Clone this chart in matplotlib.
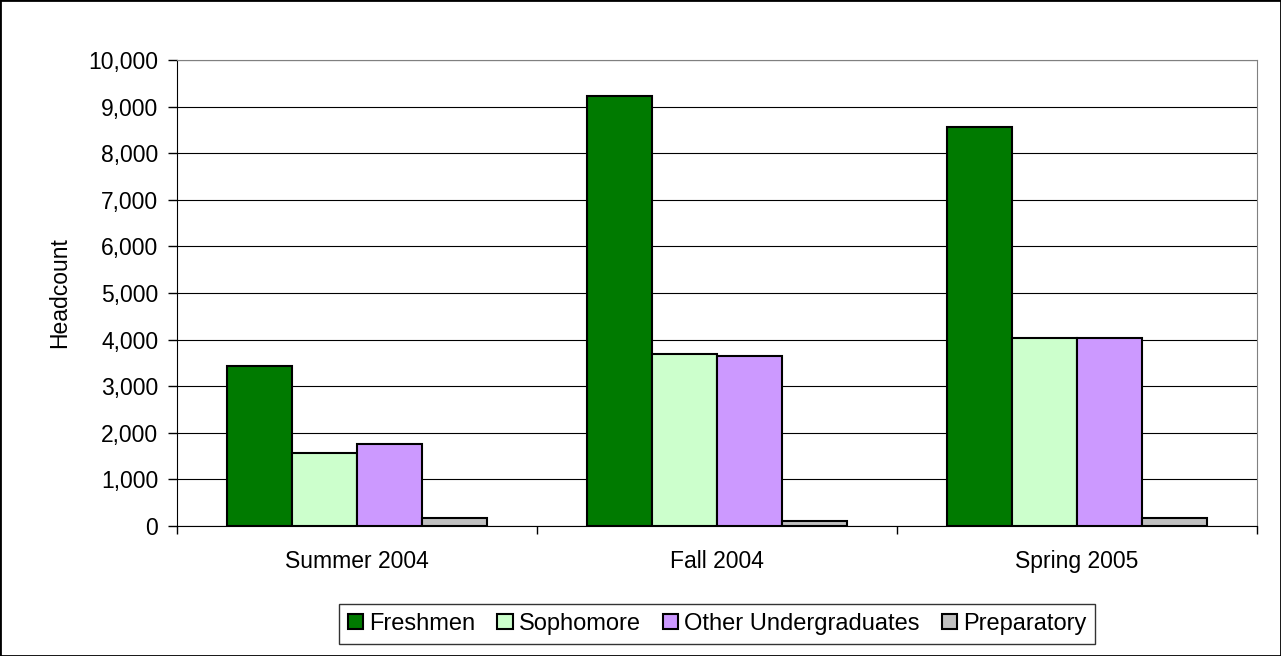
import numpy as np
import matplotlib.pyplot as plt
from matplotlib.ticker import FuncFormatter

# データ
terms = ['Summer 2004', 'Fall 2004', 'Spring 2005']
freshmen = [3440, 9225, 8570]
sophomore = [1575, 3685, 4030]
other_ug = [1760, 3650, 4030]
preparatory = [165, 115, 165]

series = [('Freshmen', freshmen, '#007A00'),
          ('Sophomore', sophomore, '#CCFFCC'),
          ('Other Undergraduates', other_ug, '#CC99FF'),
          ('Preparatory', preparatory, '#C0C0C0')]

plt.rcParams['font.family'] = ['Liberation Sans', 'DejaVu Sans']
fs = 16.5

fig = plt.figure(figsize=(12.81, 6.56), dpi=100)
ax = fig.add_axes([0.1382, 0.1982, 0.8431, 0.7103])

# 外枠
fig.patches.append(plt.Rectangle((0.0, 0.0), 1.0, 1.0, transform=fig.transFigure,
                                 fill=False, edgecolor='black', linewidth=2.0))

x = np.arange(len(terms))
w = 0.18
for k, (name, vals, col) in enumerate(series):
    ax.bar(x + (k - 1.5) * w, vals, w, color=col, edgecolor='black', linewidth=1.5,
           label=name, zorder=3)

ax.set_xlim(-0.5, 2.5)
ax.set_ylim(0, 10000)
ax.set_yticks(np.arange(0, 10001, 1000))
ax.yaxis.set_major_formatter(FuncFormatter(lambda v, p: f'{int(v):,}'))
ax.yaxis.grid(True, color='black', linewidth=0.8, zorder=0)
ax.set_xticks(x)
ax.set_xticklabels(terms)
ax.set_xticks([-0.5, 0.5, 1.5, 2.5], minor=True)
ax.tick_params(axis='x', which='major', length=0, pad=17, labelsize=fs)
ax.tick_params(axis='x', which='minor', length=6, width=1, direction='out')
ax.tick_params(axis='y', length=6.5, width=1, pad=7, labelsize=fs)
ax.set_ylabel('Headcount', fontsize=fs, labelpad=12)

for s in ['top', 'right']:
    ax.spines[s].set_color('#808080')
for s in ['left', 'bottom']:
    ax.spines[s].set_color('black')

leg = ax.legend(loc='upper center', bbox_to_anchor=(0.5, -0.1674), ncol=4, frameon=True,
                fancybox=False, edgecolor='black', fontsize=17, handlelength=0.64,
                handleheight=0.64, handletextpad=0.25, columnspacing=0.95,
                borderpad=0.38, borderaxespad=0)
leg.get_frame().set_linewidth(1.0)

fig.savefig('out.png', dpi=100)
